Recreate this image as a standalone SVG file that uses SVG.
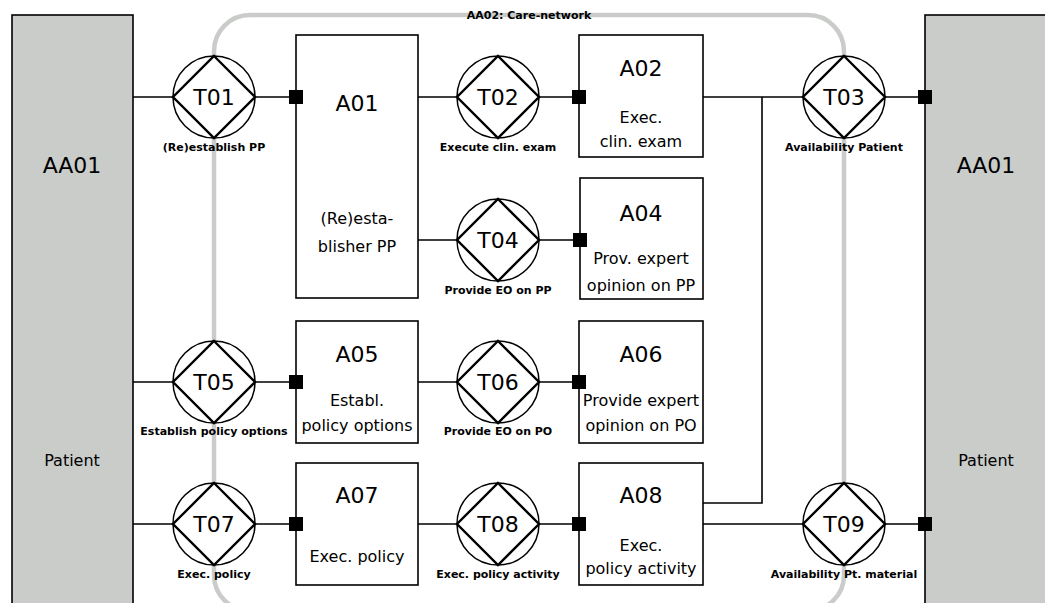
<svg xmlns="http://www.w3.org/2000/svg" width="1045" height="603" viewBox="0 0 1045 603">
<style>
.actor{fill:#c9ccc9;stroke:#000;stroke-width:1.6}
.box{fill:#fff;stroke:#000;stroke-width:1.6}
.ln{fill:none;stroke:#000;stroke-width:1.6}
.circ{fill:#fff;stroke:#000;stroke-width:1.5}
.dia{fill:none;stroke:#000;stroke-width:2.4}
.big{font-family:"DejaVu Sans",Verdana,sans-serif;font-size:22px;text-anchor:middle;fill:#000}
.txt{font-family:"DejaVu Sans",Verdana,sans-serif;font-size:16px;text-anchor:middle;fill:#000}
.lbl{font-family:"DejaVu Sans",Verdana,sans-serif;font-size:11px;font-weight:bold;text-anchor:middle;fill:#000}
</style>
<defs>
<g id="tx">
<circle r="41" class="circ"/>
<path d="M0,-41 L41,0 L0,41 L-41,0 Z" class="dia"/>
</g>
<rect id="sq" x="-7" y="-7" width="14" height="14" fill="#000"/>
</defs>
<rect width="1045" height="603" fill="#fff"/>
<g id="AA01-left"><rect x="12" y="15" width="121" height="600" class="actor"/><text x="72" y="173" class="big">AA01</text><text x="72" y="466" class="txt">Patient</text></g>
<g id="AA01-right"><rect x="925" y="15" width="130" height="600" class="actor"/><text x="986" y="173" class="big">AA01</text><text x="986" y="466" class="txt">Patient</text></g>
<g id="AA02"><rect x="214" y="15" width="630" height="596" rx="36" fill="none" stroke="#c9ccc9" stroke-width="4.5"/><text x="529" y="19" class="lbl">AA02: Care-network</text></g>
<g id="A01"><rect x="296" y="35" width="122" height="263" class="box"/><text x="357" y="111" class="big">A01</text><text x="357" y="224" class="txt">(Re)esta-</text><text x="357" y="252" class="txt">blisher PP</text></g>
<g id="A02"><rect x="579" y="35" width="124" height="122" class="box"/><text x="641" y="76" class="big">A02</text><text x="641" y="123" class="txt">Exec.</text><text x="641" y="147" class="txt">clin. exam</text></g>
<g id="A04"><rect x="580" y="178" width="123" height="121" class="box"/><text x="641" y="221" class="big">A04</text><text x="641" y="264" class="txt">Prov. expert</text><text x="641" y="291" class="txt">opinion on PP</text></g>
<g id="A05"><rect x="296" y="321" width="122" height="122" class="box"/><text x="357" y="362" class="big">A05</text><text x="357" y="406" class="txt">Establ.</text><text x="357" y="431" class="txt">policy options</text></g>
<g id="A06"><rect x="579" y="321" width="124" height="122" class="box"/><text x="641" y="362" class="big">A06</text><text x="641" y="406" class="txt">Provide expert</text><text x="641" y="431" class="txt">opinion on PO</text></g>
<g id="A07"><rect x="296" y="463" width="122" height="122" class="box"/><text x="357" y="503" class="big">A07</text><text x="357" y="562" class="txt">Exec. policy</text></g>
<g id="A08"><rect x="579" y="463" width="124" height="122" class="box"/><text x="641" y="503" class="big">A08</text><text x="641" y="551" class="txt">Exec.</text><text x="641" y="574" class="txt">policy activity</text></g>
<g id="T01"><use href="#tx" x="214" y="97"/><text x="214" y="105" class="big">T01</text><text x="214" y="151" class="lbl">(Re)establish PP</text></g>
<g id="T02"><use href="#tx" x="498" y="97"/><text x="498" y="105" class="big">T02</text><text x="498" y="151" class="lbl">Execute clin. exam</text></g>
<g id="T03"><use href="#tx" x="844" y="97"/><text x="844" y="105" class="big">T03</text><text x="844" y="151" class="lbl">Availability Patient</text></g>
<g id="T04"><use href="#tx" x="498" y="240"/><text x="498" y="248" class="big">T04</text><text x="498" y="294" class="lbl">Provide EO on PP</text></g>
<g id="T05"><use href="#tx" x="214" y="382"/><text x="214" y="390" class="big">T05</text><text x="214" y="435" class="lbl">Establish policy options</text></g>
<g id="T06"><use href="#tx" x="498" y="382"/><text x="498" y="390" class="big">T06</text><text x="498" y="435" class="lbl">Provide EO on PO</text></g>
<g id="T07"><use href="#tx" x="214" y="524"/><text x="214" y="532" class="big">T07</text><text x="214" y="578" class="lbl">Exec. policy</text></g>
<g id="T08"><use href="#tx" x="498" y="524"/><text x="498" y="532" class="big">T08</text><text x="498" y="578" class="lbl">Exec. policy activity</text></g>
<g id="T09"><use href="#tx" x="844" y="524"/><text x="844" y="532" class="big">T09</text><text x="844" y="578" class="lbl">Availability Pt. material</text></g>
<g id="connectors">
<path class="ln" d="M133,97H173 M255,97H296 M418,97H457 M539,97H579 M418,240H457 M539,240H580 M703,97H803 M885,97H925 M762,97V503H703 M703,524H803 M885,524H925 M133,382H173 M255,382H296 M418,382H457 M539,382H579 M133,524H173 M255,524H296 M418,524H457 M539,524H579"/>
<use href="#sq" x="296" y="97"/><use href="#sq" x="579" y="97"/><use href="#sq" x="580" y="240"/><use href="#sq" x="925" y="97"/>
<use href="#sq" x="296" y="382"/><use href="#sq" x="579" y="382"/><use href="#sq" x="296" y="524"/><use href="#sq" x="579" y="524"/><use href="#sq" x="925" y="524"/>
</g>
</svg>
